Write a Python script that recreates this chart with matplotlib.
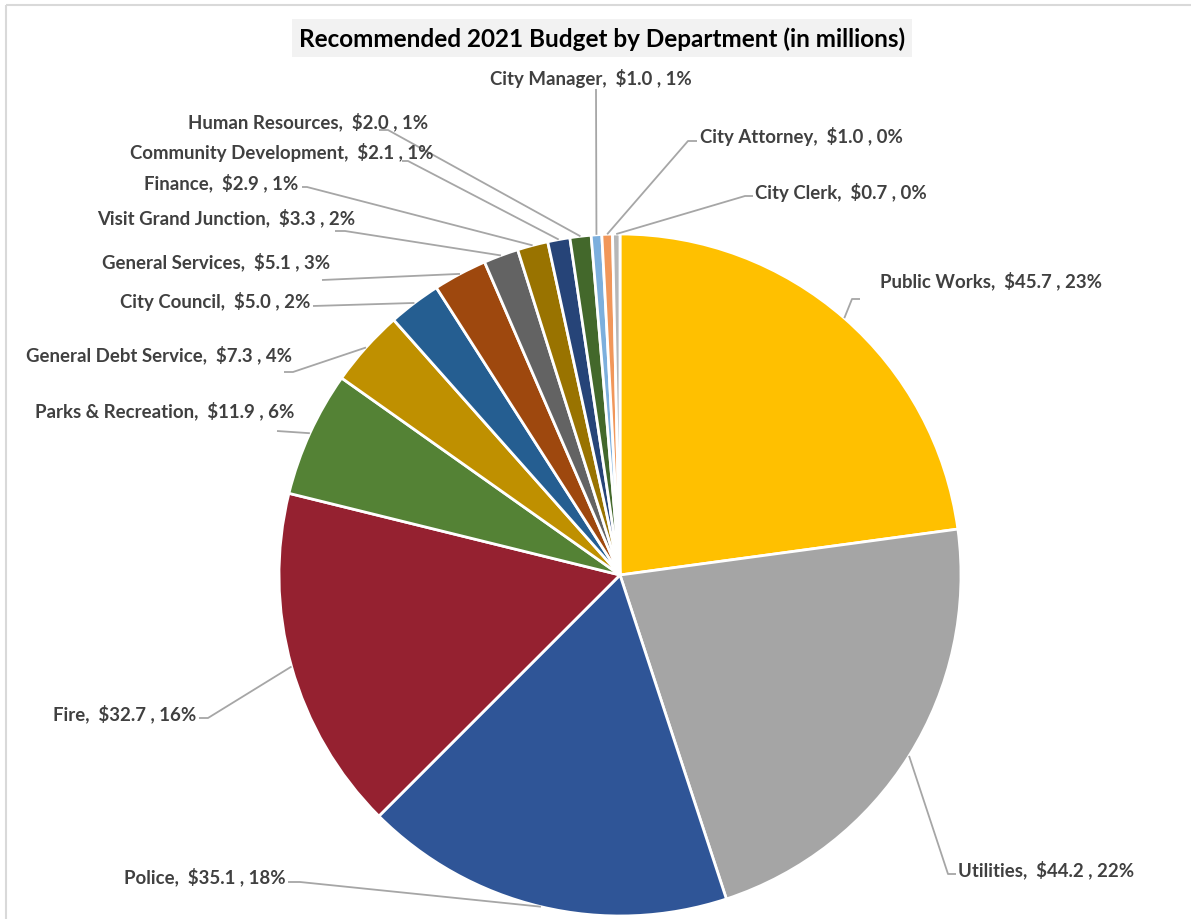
import matplotlib.pyplot as plt
from matplotlib.patches import Rectangle
import numpy as np

plt.rcParams['font.family'] = ['Lato', 'DejaVu Sans']

departments = ["Public Works", "Utilities", "Police", "Fire", "Parks & Recreation",
               "General Debt Service", "City Council", "General Services",
               "Visit Grand Junction", "Finance", "Community Development",
               "Human Resources", "City Manager", "City Attorney", "City Clerk"]
budget = [45.7, 44.2, 35.1, 32.7, 11.9, 7.3, 5.0, 5.1, 3.3, 2.9, 2.1, 2.0, 1.0, 1.0, 0.7]
percent_labels = ["23%", "22%", "18%", "16%", "6%", "4%", "2%", "3%",
                  "2%", "1%", "1%", "1%", "1%", "0%", "0%"]
colors = ["#FFC000", "#A5A5A5", "#2F5597", "#952130", "#548235", "#BF9000",
          "#255E91", "#9E480E", "#636363", "#997300", "#264478", "#43682B",
          "#7CAFDD", "#F1975A", "#B7B7B7"]

# label placement in figure pixels: text anchor, alignment, leader elbow, stub end
label_layout = [
    (880, 281, 'left', (852, 300), (860, 300)),
    (958, 870, 'left', (948, 875), (956, 875)),
    (286, 877, 'right', (300, 883), (288, 883)),
    (196, 714, 'right', (208, 719), (199, 719)),
    (294, 411, 'right', (277, 432), None),
    (292, 355, 'right', (293, 373), (284, 373)),
    (310, 302, 'right', (313, 307), None),
    (330, 262, 'right', (322, 281), None),
    (355, 218, 'right', (345, 232), (335, 232)),
    (298, 183, 'right', (307, 188), (302, 188)),
    (433, 152, 'right', (408, 162), (402, 162)),
    (428, 122, 'right', (388, 131), (379, 131)),
    (692, 78, 'right', (596, 90), None),
    (700, 136, 'left', (688, 142), (697, 142)),
    (755, 192, 'left', (745, 197), (753, 197)),
]

W, H = 1191, 920
cx, cy, r = 620, 576, 341

fig = plt.figure(figsize=(W / 100, H / 100), dpi=100)
ax = fig.add_axes([0, 0, 1, 1])

# outer chart border
ax.add_patch(Rectangle((6, 6), W + 20, H + 20, facecolor='none',
                       edgecolor='#D9D9D9', linewidth=1.5))

# y axis is inverted, so start at -90 and go counterclockwise in data => clockwise from top
wedges, _ = ax.pie(budget, colors=colors, startangle=-90, counterclock=True,
                   center=(cx, cy), radius=r, frame=True,
                   wedgeprops=dict(edgecolor='white', linewidth=2))
ax.set_xlim(0, W)
ax.set_ylim(H, 0)
ax.axis('off')

for w, name, val, pct, lay in zip(wedges, departments, budget, percent_labels, label_layout):
    tx, ty, ha, elbow, stub = lay
    mid = np.deg2rad((w.theta1 + w.theta2) / 2)
    sx = cx + r * np.cos(mid)
    sy = cy + r * np.sin(mid)
    xs = [sx, elbow[0]]
    ys = [sy, elbow[1]]
    if stub is not None:
        xs.append(stub[0])
        ys.append(stub[1])
    ax.plot(xs, ys, color='#A6A6A6', linewidth=1.3, solid_capstyle='butt')
    ax.text(tx, ty, f"{name},  ${val:.1f} , {pct}", ha=ha, va='center',
            fontsize=13.4, fontweight='bold', color='#404040')

# title with shaded box
ax.add_patch(Rectangle((292, 20), 620, 38, facecolor='#F2F2F2', edgecolor='none'))
ax.text(602, 39, "Recommended 2021 Budget by Department (in millions)",
        ha='center', va='center', fontsize=17.5, fontweight='bold', color='black')

fig.savefig("out.png", dpi=100)
